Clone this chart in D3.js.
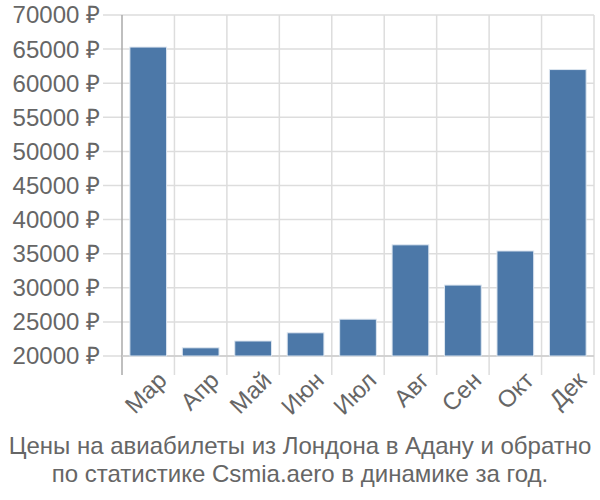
<!DOCTYPE html>
<html><head><meta charset="utf-8">
<script src="https://cdn.jsdelivr.net/npm/d3@7"></script>
<style>body{margin:0;background:#fff}</style>
</head><body>
<svg id="c" width="600" height="500"></svg>
<script>
const months = ["Мар","Апр","Май","Июн","Июл","Авг","Сен","Окт","Дек"];
const prices = [65300, 21200, 22200, 23400, 25400, 36300, 30400, 35400, 62000];
const yTicks = [20000,25000,30000,35000,40000,45000,50000,55000,60000,65000,70000];
const titleLines = ["Цены на авиабилеты из Лондона в Адану и обратно","по статистике Csmia.aero в динамике за год."];

(function(){
const svg = d3.select("#c");
const mLeft = 122, mRight = 594, mTop = 15, mBottom = 356;
const x = d3.scaleBand().domain(months).range([mLeft, mRight]).paddingInner(0.3).paddingOuter(0.15);
const y = d3.scaleLinear().domain([20000, 70000]).range([mBottom, mTop]);
const font = "'Liberation Sans', Arial, sans-serif";

svg.append("g").selectAll("line").data(yTicks).join("line")
  .attr("x1", 103).attr("x2", mRight).attr("y1", d=>y(d)).attr("y2", d=>y(d))
  .attr("stroke", "#ddd").attr("stroke-width", 1.5);
const step = (mRight-mLeft)/months.length;
const bounds = d3.range(months.length+1).map(i=>mLeft+i*step);
svg.append("g").selectAll("line").data(bounds.slice(1)).join("line")
  .attr("x1", d=>d).attr("x2", d=>d).attr("y1", mTop).attr("y2", 375)
  .attr("stroke", "#ddd").attr("stroke-width", 1.5);
svg.append("line").attr("x1", mLeft).attr("x2", mLeft).attr("y1", mTop).attr("y2", 375)
  .attr("stroke", "#aaa").attr("stroke-width", 1.5);
svg.append("line").attr("x1", mLeft).attr("x2", mRight).attr("y1", mBottom).attr("y2", mBottom)
  .attr("stroke", "#ccc").attr("stroke-width", 1.5);

svg.append("g").selectAll("rect").data(months).join("rect")
  .attr("x", d=>x(d)).attr("width", x.bandwidth())
  .attr("y", (d,i)=>y(prices[i])).attr("height", (d,i)=>mBottom - y(prices[i]))
  .attr("fill", "#4c78a8").attr("stroke", "#dde6f0").attr("stroke-width", 1);

svg.append("g").selectAll("text").data(yTicks).join("text")
  .attr("x", 100).attr("y", d=>y(d)).attr("dy", "0.35em")
  .attr("text-anchor", "end").attr("font-family", font).attr("font-size", 24)
  .attr("fill", "#666").text(d=>d + " ₽");

svg.append("g").selectAll("text").data(months).join("text")
  .attr("transform", d=>`translate(${x(d)+x.bandwidth()/2+8},${370}) rotate(-45)`)
  .attr("text-anchor", "end").attr("dy", "0.7em")
  .attr("font-family", font).attr("font-size", 24).attr("fill", "#666").text(d=>d);

svg.append("g").selectAll("text").data(titleLines).join("text")
  .attr("x", 300).attr("y", (d,i)=>454 + i*28).attr("text-anchor", "middle")
  .attr("font-family", font).attr("font-size", 24).attr("fill", "#666").text(d=>d);
})();
</script>
</body></html>
